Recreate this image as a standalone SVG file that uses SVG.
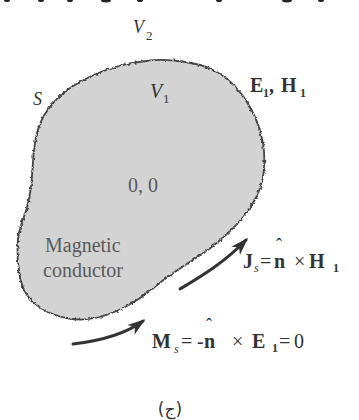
<svg xmlns="http://www.w3.org/2000/svg" width="359" height="420" viewBox="0 0 359 420">
<style>
.lbl{font-family:"Liberation Serif","Times New Roman",serif;fill:#333}
.it{font-style:italic}
.bd{font-weight:bold}
.inner{fill:#5a5a5a}
.arr{fill:none;stroke:#333;stroke-width:3;stroke-linecap:round}
</style>
<defs>
<filter id="rough" x="-10%" y="-10%" width="120%" height="120%">
<feTurbulence type="fractalNoise" baseFrequency="0.3" numOctaves="2" seed="5"/>
<feDisplacementMap in="SourceGraphic" scale="3.5" xChannelSelector="R" yChannelSelector="G"/>
</filter>
<marker id="ah" viewBox="-18 -7 22 14" markerWidth="22" markerHeight="14" refX="0" refY="0" orient="auto" markerUnits="userSpaceOnUse">
<path d="M3,0 L-15,-6 L-10,0 L-15,6 Z" fill="#333"/>
</marker>
</defs>
<rect width="359" height="420" fill="#ffffff"/>
<g id="top-fragments" fill="#222">
<ellipse cx="7" cy="0" rx="3" ry="2"/>
<ellipse cx="41" cy="0" rx="3" ry="2"/>
<ellipse cx="70" cy="0" rx="3" ry="2"/>
<ellipse cx="106" cy="0" rx="5" ry="2.5"/>
<ellipse cx="140" cy="0" rx="3" ry="2"/>
<ellipse cx="219" cy="0" rx="3" ry="2"/>
<ellipse cx="287" cy="0" rx="5" ry="2.5"/>
<ellipse cx="321" cy="0" rx="3" ry="2"/>
</g>
<g id="conductor">
<path filter="url(#rough)" fill="#d3d3d3" stroke="#444" stroke-width="1.8" d="M182.5,61.5 Q200,64 211,69 Q222,74 231,82.5 Q240,91 247.5,103 Q255,115 259,127.5 Q263,140 264,151 Q265,162 263.5,173.5 Q262,185 256.5,196.5 Q251,208 242,218.5 Q233,229 221.5,239 Q210,249 197.5,257 Q185,265 174,272.5 Q163,280 151.5,289.5 Q140,299 126,306.5 Q112,314 97.5,317.5 Q83,321 69,318.5 Q55,316 45,310.5 Q35,305 28.5,297 Q22,289 19.5,274.5 Q17,260 17.5,246 Q18,232 22.5,221 Q27,210 29.5,196.5 Q32,183 32.5,169 Q33,155 35.5,140 Q38,125 45,114 Q52,103 61,95 Q70,87 86.5,78.5 Q103,70 119,66 Q135,62 150,60.5 Q165,59 182.5,61.5 Z"/>
<text class="lbl it" x="150" y="98" font-size="20">V</text>
<text class="lbl" x="163" y="103" font-size="13">1</text>
<text class="lbl inner" x="128" y="192" font-size="20">0, 0</text>
<text class="lbl inner" x="45" y="252" font-size="20">Magnetic</text>
<text class="lbl inner" x="43" y="277" font-size="20">conductor</text>
</g>
<g id="labels">
<text class="lbl it" x="133" y="33" font-size="18">V</text>
<text class="lbl" x="146" y="40" font-size="13">2</text>
<text class="lbl it" x="33" y="105" font-size="18">S</text>
<text class="lbl bd" x="250" y="92" font-size="20">E</text>
<text class="lbl bd" x="263" y="97" font-size="12">1</text>
<text class="lbl bd" x="269" y="92" font-size="20">,</text>
<text class="lbl bd" x="281" y="92" font-size="20">H</text>
<text class="lbl bd" x="300" y="97" font-size="12">1</text>
</g>
<g id="connectors">
<path class="arr" d="M180,289 C200,277 224,263 246,240" marker-end="url(#ah)"/>
<path class="arr" d="M73,344 C99,341 124,335 143,321" marker-end="url(#ah)"/>
</g>
<g id="js-label">
<text class="lbl bd" x="243" y="268" font-size="20">J</text>
<text class="lbl it" x="254" y="272" font-size="12">s</text>
<text class="lbl" x="260" y="268" font-size="20">=</text>
<text class="lbl bd" x="274" y="268" font-size="20">n</text>
<text class="lbl" x="276" y="251" font-size="18">ˆ</text>
<text class="lbl" x="294" y="268" font-size="20">×</text>
<text class="lbl bd" x="309" y="268" font-size="20">H</text>
<text class="lbl bd" x="333" y="272" font-size="12">1</text>
</g>
<g id="ms-label">
<text class="lbl bd" x="152" y="348" font-size="20">M</text>
<text class="lbl it" x="174" y="353" font-size="12">s</text>
<text class="lbl" x="181" y="348" font-size="20">=</text>
<text class="lbl" x="197" y="348" font-size="20">-</text>
<text class="lbl bd" x="204" y="348" font-size="20">n</text>
<text class="lbl" x="206" y="331" font-size="18">ˆ</text>
<text class="lbl" x="232" y="348" font-size="20">×</text>
<text class="lbl bd" x="252" y="348" font-size="20">E</text>
<text class="lbl bd" x="272" y="352" font-size="12">1</text>
<text class="lbl" x="279" y="348" font-size="20">=</text>
<text class="lbl" x="294" y="348" font-size="20">0</text>
</g>
<text id="caption" x="170" y="415" font-size="17" text-anchor="middle" font-family="'DejaVu Sans','Noto Sans',sans-serif" fill="#333">(ج)</text>
</svg>
